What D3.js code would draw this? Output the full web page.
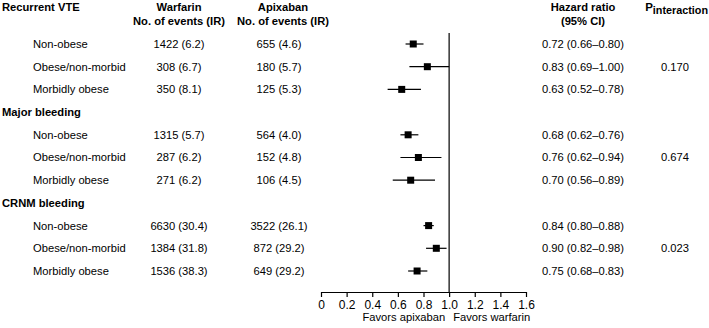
<!DOCTYPE html>
<html>
<head>
<meta charset="utf-8">
<script src="https://cdn.jsdelivr.net/npm/d3@7"></script>
<style>
  html, body { margin: 0; padding: 0; background: #fff; }
  svg { display: block; }
  text { font-family: "Liberation Sans", Arial, Helvetica, sans-serif; fill: #000; }
</style>
</head>
<body>
<svg id="chart" width="709" height="328"></svg>
<script>
const groups = ["Recurrent VTE", "Major bleeding", "CRNM bleeding"];
const subgroups = ["Non-obese", "Obese/non-morbid", "Morbidly obese"];
const warfarinEvents = [1422, 308, 350, 1315, 287, 271, 6630, 1384, 1536];
const warfarinIR = [6.2, 6.7, 8.1, 5.7, 6.2, 6.2, 30.4, 31.8, 38.3];
const apixabanEvents = [655, 180, 125, 564, 152, 106, 3522, 872, 649];
const apixabanIR = [4.6, 5.7, 5.3, 4.0, 4.8, 4.5, 26.1, 29.2, 29.2];
const hazardRatio = [0.72, 0.83, 0.63, 0.68, 0.76, 0.70, 0.84, 0.90, 0.75];
const ciLower = [0.66, 0.69, 0.52, 0.62, 0.62, 0.56, 0.80, 0.82, 0.68];
const ciUpper = [0.80, 1.00, 0.78, 0.76, 0.94, 0.89, 0.88, 0.98, 0.83];
const pInteraction = ["0.170", "0.674", "0.023"];
const tickValues = [0, 0.2, 0.4, 0.6, 0.8, 1.0, 1.2, 1.4, 1.6];

const svg = d3.select("#chart");
const FS = 11.2;

const x = d3.scaleLinear().domain([0, 1.6]).range([321, 526]);
const y = d3.scaleLinear().domain([1, 11]).range([44, 271]);
const axisY = 292;

// rows
const rows = [];
groups.forEach((g, gi) => {
  rows.push({type: "header", label: g, r: gi === 0 ? null : gi * 4, gi});
  subgroups.forEach((s, si) => {
    const i = gi * 3 + si;
    rows.push({type: "row", label: s, r: gi * 4 + si + 1, i, gi, si});
  });
});

const fmt1 = d3.format(".1f");
const fmt2 = d3.format(".2f");

// column headers
const hdr = svg.append("g").attr("font-weight", "bold").attr("font-size", FS);
function header(xp, l1, l2, anchor) {
  hdr.append("text").attr("x", xp).attr("y", 7).attr("dy", "0.35em").attr("text-anchor", anchor).text(l1);
  if (l2) hdr.append("text").attr("x", xp).attr("y", 21).attr("dy", "0.35em").attr("text-anchor", anchor).text(l2);
}
header(179, "Warfarin", "No. of events (IR)", "middle");
header(283, "Apixaban", "No. of events (IR)", "middle");
header(583, "Hazard ratio", "(95% CI)", "middle");
const pt = hdr.append("text").attr("x", 708).attr("y", 7).attr("dy", "0.35em").attr("text-anchor", "end");
pt.append("tspan").attr("font-size", 11.5).text("P");
pt.append("tspan").attr("font-size", 10.8).attr("dy", 3).text("interaction");

// group headers and row labels
rows.forEach(d => {
  const yy = d.r === null ? 7 : y(d.r);
  if (d.type === "header") {
    svg.append("text").attr("x", 2).attr("y", yy).attr("dy", "0.35em")
      .attr("font-weight", "bold").attr("font-size", FS).text(d.label);
  } else {
    const t = svg.append("g").attr("font-size", FS);
    t.append("text").attr("x", 33).attr("y", yy).attr("dy", "0.35em").text(d.label);
    t.append("text").attr("x", 179).attr("y", yy).attr("dy", "0.35em").attr("text-anchor", "middle")
      .text(`${warfarinEvents[d.i]} (${fmt1(warfarinIR[d.i])})`);
    t.append("text").attr("x", 279).attr("y", yy).attr("dy", "0.35em").attr("text-anchor", "middle")
      .text(`${apixabanEvents[d.i]} (${fmt1(apixabanIR[d.i])})`);
    t.append("text").attr("x", 583).attr("y", yy).attr("dy", "0.35em").attr("text-anchor", "middle")
      .text(`${fmt2(hazardRatio[d.i])} (${fmt2(ciLower[d.i])}\u2013${fmt2(ciUpper[d.i])})`);
    if (d.si === 1) {
      t.append("text").attr("x", 675).attr("y", yy).attr("dy", "0.35em").attr("text-anchor", "middle")
        .text(pInteraction[d.gi]);
    }
    // CI line and marker
    svg.append("line").attr("x1", x(ciLower[d.i])).attr("x2", x(ciUpper[d.i]))
      .attr("y1", yy).attr("y2", yy).attr("stroke", "#000").attr("stroke-width", 1.2);
    svg.append("rect").attr("x", x(hazardRatio[d.i]) - 3.5).attr("y", yy - 3.5)
      .attr("width", 7).attr("height", 7).attr("fill", "#000");
  }
});

// reference line
svg.append("line").attr("x1", x(1)).attr("x2", x(1)).attr("y1", 33).attr("y2", axisY)
  .attr("stroke", "#000").attr("stroke-width", 1.2);

// axis
const axis = d3.axisBottom(x).tickValues(tickValues).tickSize(5).tickSizeOuter(0)
  .tickFormat(d => d === 0 ? "0" : fmt1(d));
const ag = svg.append("g").attr("transform", `translate(0,${axisY})`).call(axis);
ag.selectAll("path, line").attr("stroke", "#000").attr("stroke-width", 1.2);
ag.selectAll("text").attr("font-size", 12).attr("fill", "#000")
  .style("font-family", '"Liberation Sans", Arial, sans-serif');

// favors labels
svg.append("text").attr("x", x(1) - 4).attr("y", 321).attr("text-anchor", "end").attr("font-size", FS).text("Favors apixaban");
svg.append("text").attr("x", x(1) + 4).attr("y", 321).attr("text-anchor", "start").attr("font-size", FS).text("Favors warfarin");
</script>
</body>
</html>
